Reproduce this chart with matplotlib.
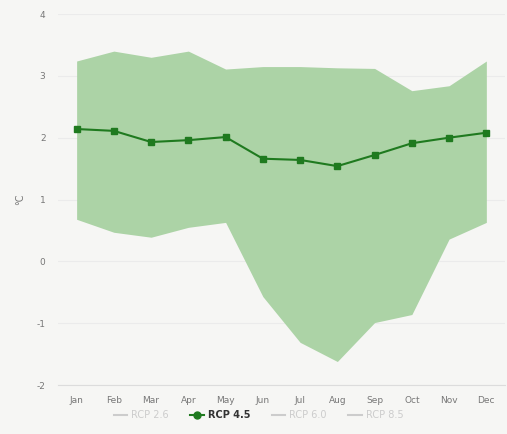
import matplotlib.pyplot as plt
from matplotlib.lines import Line2D

months = ["Jan", "Feb", "Mar", "Apr", "May", "Jun", "Jul", "Aug", "Sep", "Oct", "Nov", "Dec"]
rcp45_mean = [2.14, 2.11, 1.93, 1.96, 2.01, 1.66, 1.64, 1.54, 1.72, 1.91, 2.00, 2.08]
rcp45_high = [3.24, 3.40, 3.30, 3.40, 3.11, 3.15, 3.15, 3.13, 3.12, 2.76, 2.84, 3.24]
rcp45_low = [0.68, 0.47, 0.39, 0.55, 0.63, -0.57, -1.31, -1.62, -0.99, -0.86, 0.36, 0.63]
y_ticks = [-2, -1, 0, 1, 2, 3, 4]
legend_names = ["RCP 2.6", "RCP 4.5", "RCP 6.0", "RCP 8.5"]

bg = "#f6f6f4"
fig = plt.figure(figsize=(5.07, 4.34), dpi=100, facecolor=bg)
ax = fig.add_axes([0.1144, 0.1129, 0.8816, 0.8548], facecolor=bg)

x = list(range(len(months)))
ax.fill_between(x, rcp45_low, rcp45_high, color="#acd3a6", linewidth=0, zorder=2)
ax.plot(x, rcp45_mean, color="#1f7a1f", linewidth=1.5, marker="s", markersize=4.5, zorder=3)

ax.set_xlim(-0.5, 11.5)
ax.set_ylim(-2, 4)
ax.set_xticks(x)
ax.set_xticklabels(months)
ax.set_yticks(y_ticks)
ax.set_yticklabels([str(v) for v in y_ticks])
ax.tick_params(axis="both", length=0, labelsize=6.5, colors="#777777")
ax.tick_params(axis="x", pad=8)
ax.tick_params(axis="y", pad=9)
ax.grid(axis="y", color="#ebebeb", linewidth=0.8, zorder=0)
for side in ["top", "right", "left"]:
    ax.spines[side].set_visible(False)
ax.spines["bottom"].set_color("#dcdcdc")
ax.set_ylabel("°C", fontsize=7, color="#777777", labelpad=8)

handles = []
for name in legend_names:
    if name == "RCP 4.5":
        handles.append(Line2D([], [], color="#1f7a1f", marker="o", markersize=5, linewidth=1.5))
    else:
        handles.append(Line2D([], [], color="#cccccc", linewidth=1.5))
leg = fig.legend(handles, legend_names, loc="center", bbox_to_anchor=(0.51, 0.044), ncol=4,
                 frameon=False, fontsize=7, handlelength=1.4, handletextpad=0.4, columnspacing=2.2)
for t, name in zip(leg.get_texts(), legend_names):
    if name == "RCP 4.5":
        t.set_color("#333333")
        t.set_fontweight("bold")
    else:
        t.set_color("#cccccc")

fig.savefig("out.png", dpi=100, facecolor=bg)
